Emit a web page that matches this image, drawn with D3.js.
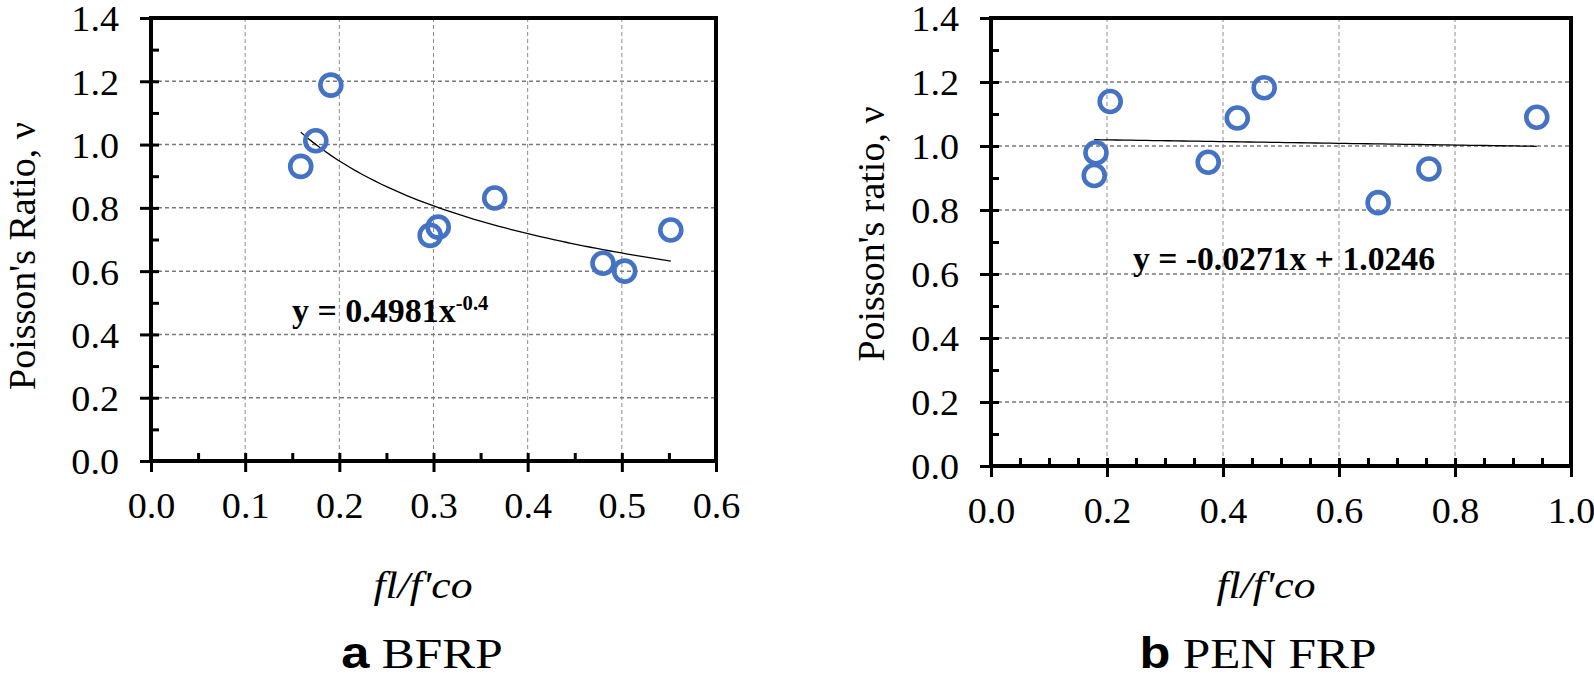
<!DOCTYPE html>
<html><head><meta charset="utf-8">
<script src="https://cdn.jsdelivr.net/npm/d3@7"></script>
<style>
html,body{margin:0;padding:0;background:#fff;}
svg{display:block;}
</style></head>
<body>
<svg id="chart" width="1594" height="678"></svg>
<script>
// ---- data ----
const bfrpX = [0.159, 0.175, 0.191, 0.2965, 0.305, 0.365, 0.480, 0.503, 0.552];
const bfrpY = [0.931, 1.012, 1.188, 0.713, 0.739, 0.831, 0.625, 0.600, 0.730];
const penX  = [0.178, 0.181, 0.2055, 0.3745, 0.4246, 0.471, 0.6675, 0.755, 0.941];
const penY  = [0.908, 0.979, 1.139, 0.949, 1.0875, 1.182, 0.823, 0.928, 1.090];
const yTicks  = [0, 0.2, 0.4, 0.6, 0.8, 1.0, 1.2, 1.4];
const yMinor  = [0.1, 0.3, 0.5, 0.7, 0.9, 1.1, 1.3];
const xTicksA = [0, 0.1, 0.2, 0.3, 0.4, 0.5, 0.6];
const xMinorA = [0.05, 0.15, 0.25, 0.35, 0.45, 0.55];
const xTicksB = [0, 0.2, 0.4, 0.6, 0.8, 1.0];
const xMinorB = [0.05,0.1,0.15,0.25,0.3,0.35,0.45,0.5,0.55,0.65,0.7,0.75,0.85,0.9,0.95];
const powerFit = {a: 0.4981, b: -0.4};
const linearFit = {m: -0.0271, c: 1.0246};
const eqA = ["y = 0.4981x", "-0.4"];
const eqB = "y = -0.0271x + 1.0246";

const svg = d3.select("#chart");
const SERIF = '"Liberation Serif","Times New Roman",serif';
const SANS = '"Liberation Sans",Arial,sans-serif';
const BLUE = "#4472C4";
const fmt = d3.format(".1f");
const TS = 1.06; // horizontal stretch of tick labels

function panel(cfg){
  const g = svg.append("g");
  const x = d3.scaleLinear().domain(cfg.xDomain).range([cfg.left, cfg.right]);
  const y = d3.scaleLinear().domain([0, 1.4]).range([cfg.bottom, cfg.top]);

  // grid
  g.append("g").selectAll("line").data(cfg.xTicks.slice(1, -1)).join("line")
    .attr("x1", d => x(d)).attr("x2", d => x(d)).attr("y1", cfg.top).attr("y2", cfg.bottom)
    .attr("stroke", "#8c8c8c").attr("stroke-width", 1).attr("stroke-dasharray", "4,3");
  g.append("g").selectAll("line").data(yTicks.slice(1, -1)).join("line")
    .attr("x1", cfg.left).attr("x2", cfg.right).attr("y1", d => y(d)).attr("y2", d => y(d))
    .attr("stroke", "#7a7a7a").attr("stroke-width", 1.5).attr("stroke-dasharray", "4,3");

  // y axis: outer major ticks with labels
  const ya = g.append("g").attr("transform", `translate(${cfg.left},0)`)
    .call(d3.axisLeft(y).tickValues(yTicks).tickSize(11).tickFormat(fmt));
  ya.select(".domain").remove();
  ya.selectAll("line").attr("stroke-width", 3);
  ya.selectAll("text").attr("x", -32 / TS).attr("dy", "0.36em")
    .attr("transform", `scale(${TS},1)`)
    .style("font-family", SERIF).style("font-size", "36px").attr("fill", "#000");
  // y inner ticks
  const yi = g.append("g").attr("transform", `translate(${cfg.left},0)`)
    .call(d3.axisRight(y).tickValues(yTicks.concat(yMinor)).tickSize(8).tickFormat(""));
  yi.select(".domain").remove();
  yi.selectAll("line").attr("stroke-width", 3);

  // x axis: outer major ticks with labels
  const xa = g.append("g").attr("transform", `translate(0,${cfg.bottom})`)
    .call(d3.axisBottom(x).tickValues(cfg.xTicks).tickSize(11).tickFormat(fmt));
  xa.select(".domain").remove();
  xa.selectAll("line").attr("stroke-width", 3);
  xa.selectAll("text").attr("y", 57).attr("dy", 0)
    .attr("transform", `scale(${TS},1)`)
    .style("font-family", SERIF).style("font-size", "36px").attr("fill", "#000");
  const xi = g.append("g").attr("transform", `translate(0,${cfg.bottom})`)
    .call(d3.axisTop(x).tickValues(cfg.xTicks.concat(cfg.xMinor)).tickSize(8).tickFormat(""));
  xi.select(".domain").remove();
  xi.selectAll("line").attr("stroke-width", 3);

  // border
  g.append("rect").attr("x", cfg.left).attr("y", cfg.top)
    .attr("width", cfg.right - cfg.left).attr("height", cfg.bottom - cfg.top)
    .attr("fill", "none").attr("stroke", "#000").attr("stroke-width", 4);

  // trend line
  const xs = d3.extent(cfg.xs);
  const tx = d3.range(0, 61).map(i => xs[0] + (xs[1] - xs[0]) * i / 60);
  g.append("path").datum(tx)
    .attr("d", d3.line().x(d => x(d)).y(d => y(cfg.fit(d))))
    .attr("fill", "none").attr("stroke", "#000").attr("stroke-width", 1.3);

  // points
  g.append("g").selectAll("circle").data(cfg.xs.map((d, i) => [d, cfg.ys[i]])).join("circle")
    .attr("cx", d => x(d[0])).attr("cy", d => y(d[1])).attr("r", 10.5)
    .attr("fill", "none").attr("stroke", BLUE).attr("stroke-width", 4.6);

  // y title
  g.append("text")
    .attr("transform", `translate(${cfg.yTitleX},${cfg.yTitleY}) rotate(-90)`)
    .attr("text-anchor", "middle")
    .style("font-family", SERIF).style("font-size", "38px").text(cfg.yTitle);

  // x title
  g.append("text")
    .attr("transform", `translate(${cfg.xTitleX},598) scale(1.15,1)`)
    .attr("text-anchor", "middle")
    .style("font-family", SERIF).style("font-style", "italic").style("font-size", "38px")
    .text("fl/f'co");

  // subtitle
  const st = g.append("text")
    .attr("transform", `translate(${cfg.subX},668) scale(1.15,1)`)
    .attr("text-anchor", "middle");
  st.append("tspan").style("font-family", SANS).style("font-weight", "bold").style("font-size", "44px").text(cfg.letter);
  st.append("tspan").style("font-family", SERIF).style("font-size", "43px").text(" " + cfg.name);

  return {g, x, y};
}

const A = panel({
  left: 151, right: 716, top: 18, bottom: 461, xDomain: [0, 0.6],
  xTicks: xTicksA, xMinor: xMinorA, xs: bfrpX, ys: bfrpY,
  fit: v => powerFit.a * Math.pow(v, powerFit.b),
  yTitle: "Poisson's Ratio, ν", yTitleX: 35, yTitleY: 256,
  xTitleX: 423, subX: 422, letter: "a", name: "BFRP"
});
const eA = A.g.append("text").attr("transform", "translate(292,322) scale(1.03,1)")
  .style("font-family", SERIF).style("font-weight", "bold").style("font-size", "33px");
eA.append("tspan").text(eqA[0]);
eA.append("tspan").style("font-size", "20px").attr("dy", -12).text(eqA[1]);

const B = panel({
  left: 991, right: 1571, top: 18, bottom: 466, xDomain: [0, 1.0],
  xTicks: xTicksB, xMinor: xMinorB, xs: penX, ys: penY,
  fit: v => linearFit.m * v + linearFit.c,
  yTitle: "Poisson's ratio, ν", yTitleX: 884, yTitleY: 234,
  xTitleX: 1266, subX: 1258, letter: "b", name: "PEN FRP"
});
B.g.append("text").attr("transform", "translate(1133,270) scale(1.02,1)")
  .style("font-family", SERIF).style("font-weight", "bold").style("font-size", "33px").text(eqB);
</script>
</body></html>
